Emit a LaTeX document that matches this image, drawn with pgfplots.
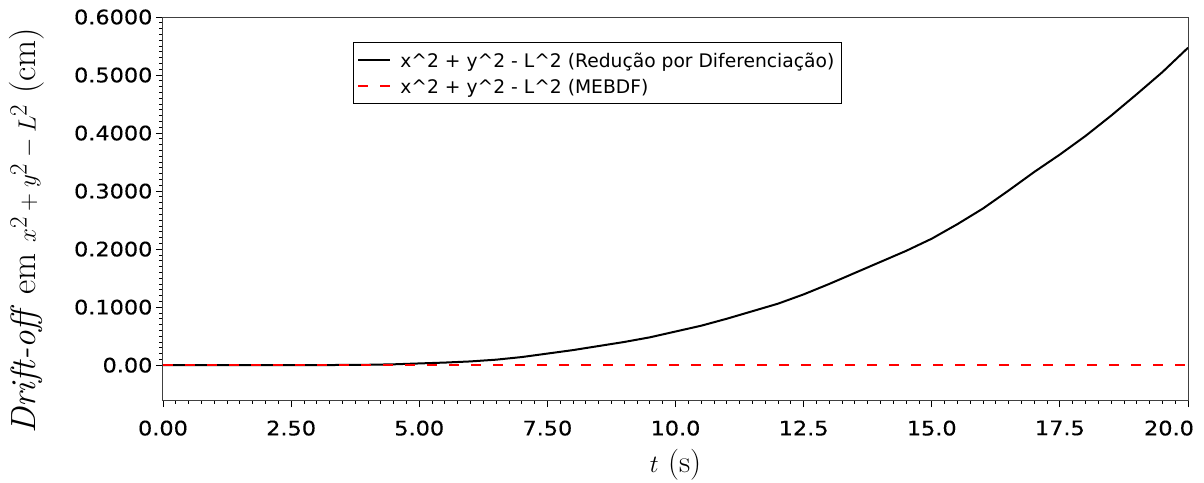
\documentclass[border=0pt]{standalone}
\usepackage{fontspec}
\usepackage{pgfplots}
\pgfplotsset{compat=1.18}
\newfontfamily\tickfont[FakeStretch=1.12,FakeBold=0.3]{DejaVu Sans}
\newfontfamily\legfont{DejaVu Sans}
\begin{document}
\begin{tikzpicture}
\begin{axis}[name=ax, scale only axis, width=1025pt, height=383pt,
  xmin=0, xmax=20, ymin=-0.06, ymax=0.6,
  xtick={0,2.5,5,7.5,10,12.5,15,17.5,20},
  xticklabels={0.00,2.50,5.00,7.50,10.0,12.5,15.0,17.5,{20.0\hspace*{38pt}}},
  ytick={0,0.1,0.2,0.3,0.4,0.5,0.6},
  yticklabels={0.00,0.1000,0.2000,0.3000,0.4000,0.5000,0.6000},
  minor x tick num=9, minor y tick num=9,
  tick align=outside, xtick pos=bottom, ytick pos=left,
  major tick length=7pt, minor tick length=3.5pt,
  every tick/.style={black, line width=0.8pt},
  ticklabel style={font=\tickfont\fontsize{20}{24}\selectfont, text=black},
  xticklabel style={yshift=-10pt},
  axis line style={line width=1pt, black!75},
  xlabel={$t$ (s)},
  ylabel={\textit{Drift-off} em $x^2+y^2-L^2$ (cm)},
  xlabel style={font=\fontsize{31}{36}\selectfont, at={(axis description cs:0.5,-0.17)}, anchor=center},
  ylabel style={font=\fontsize{35}{40}\selectfont, at={(axis description cs:-0.1327,0.442)}, anchor=center},
  legend style={at={(0.1854,0.9347)}, anchor=north west,
    font=\legfont\fontsize{18.7}{22}\selectfont, draw=black, line width=0.8pt,
    inner xsep=4pt, inner ysep=6.5pt, row sep=4pt,
    nodes={inner ysep=2pt, inner xsep=3pt, text height=17pt, text depth=1pt}},
  legend cell align=left,
  legend image code/.code={\draw[#1, line width=2pt] (0pt,0pt) -- (32pt,0pt); \path (38pt,0pt);},
]
\addplot[black, line width=2pt] coordinates {
(0,0) (2,0) (3,0.0001) (4,0.0007) (4.5,0.0015) (5,0.003) (5.5,0.0045)
(6,0.0065) (6.5,0.0095) (7,0.014) (7.5,0.020) (8,0.026) (8.5,0.033)
(9,0.040) (9.5,0.048) (10,0.058) (10.5,0.068) (11,0.080) (11.5,0.093)
(12,0.106) (12.5,0.122) (13,0.140) (13.5,0.159) (14,0.178) (14.5,0.197)
(15,0.218) (15.5,0.243) (16,0.270) (16.5,0.301) (17,0.333) (17.5,0.363)
(18,0.395) (18.5,0.430) (19,0.467) (19.5,0.505) (20,0.547)};
\addlegendentry{x\^{}2 + y\^{}2 - L\^{}2 (Redução por Diferenciação)}
\addplot[red, line width=2pt, dash pattern=on 10pt off 12pt] coordinates {
(0,0) (20,0)};
\addlegendentry{x\^{}2 + y\^{}2 - L\^{}2 (MEBDF)}
\end{axis}
\pgfresetboundingbox
\path ([shift={(-163pt,-82pt)}]ax.south west) rectangle ([shift={(1041pt,400pt)}]ax.south west);
\end{tikzpicture}
\end{document}
